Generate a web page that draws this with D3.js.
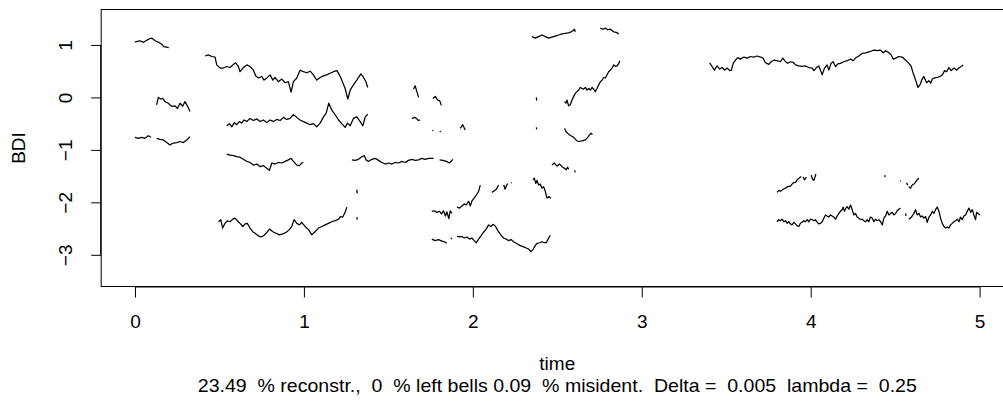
<!DOCTYPE html>
<html>
<head>
<meta charset="utf-8">
<script src="https://cdn.jsdelivr.net/npm/d3@7"></script>
<style>
  body { margin: 0; background: #fff; }
  text { font-family: "Liberation Sans", Arial, Helvetica, sans-serif; fill: #000; }
</style>
</head>
<body>
<svg id="chart" width="1003" height="408"></svg>
<script>
// Axis ticks and titles
const xTicks = [0, 1, 2, 3, 4, 5];
const yTicks = [-3, -2, -1, 0, 1];
const xTitle = "time";
const yTitle = "BDI";
const subTitle = "23.49  % reconstr.,  0  % left bells 0.09  % misident.  Delta =  0.005  lambda =  0.25";

// Reconstructed ridge pieces, each a list of [time, BDI]
const ridgeA = [[0.000,1.06],[0.030,1.08],[0.050,1.05],[0.080,1.11],[0.100,1.13],[0.120,1.08],[0.140,1.05],[0.160,1.01],[0.170,0.97],[0.200,0.95]];
const ridgeB = [[0.415,0.79],[0.434,0.81],[0.454,0.78],[0.474,0.77],[0.484,0.62],[0.504,0.56],[0.523,0.56],[0.543,0.59],[0.563,0.57],[0.583,0.63],[0.596,0.66],[0.612,0.59],[0.622,0.49],[0.642,0.57],[0.662,0.62],[0.681,0.59],[0.701,0.52],[0.715,0.41],[0.731,0.37],[0.750,0.40],[0.764,0.33],[0.780,0.37],[0.800,0.43],[0.816,0.33],[0.829,0.38],[0.849,0.30],[0.869,0.35],[0.889,0.28],[0.908,0.30],[0.924,0.10],[0.938,0.30],[0.958,0.37],[0.977,0.52],[0.997,0.49],[1.017,0.47],[1.037,0.50],[1.056,0.43],[1.076,0.33],[1.096,0.38],[1.116,0.41],[1.135,0.43],[1.155,0.46],[1.175,0.49],[1.195,0.51],[1.210,0.43],[1.224,0.33],[1.244,0.17],[1.260,-0.03],[1.274,0.14],[1.293,0.24],[1.313,0.33],[1.337,0.45],[1.353,0.38],[1.367,0.30],[1.378,0.19]];
const ridgeC = [[0.128,-0.14],[0.138,0.00],[0.152,-0.03],[0.164,-0.02],[0.178,-0.08],[0.197,-0.11],[0.217,-0.17],[0.237,-0.16],[0.251,-0.21],[0.267,-0.11],[0.282,-0.17],[0.296,-0.08],[0.310,-0.16],[0.326,-0.27]];
const ridgeD = [[0.543,-0.54],[0.559,-0.50],[0.573,-0.56],[0.588,-0.48],[0.602,-0.52],[0.618,-0.46],[0.632,-0.49],[0.646,-0.43],[0.662,-0.46],[0.681,-0.40],[0.701,-0.44],[0.721,-0.41],[0.741,-0.46],[0.760,-0.43],[0.780,-0.48],[0.800,-0.43],[0.820,-0.46],[0.839,-0.42],[0.859,-0.44],[0.879,-0.38],[0.898,-0.42],[0.918,-0.40],[0.938,-0.33],[0.958,-0.38],[0.977,-0.43],[0.997,-0.46],[1.017,-0.49],[1.037,-0.52],[1.056,-0.50],[1.076,-0.56],[1.096,-0.49],[1.116,-0.37],[1.132,-0.30],[1.147,-0.11],[1.165,-0.24],[1.185,-0.33],[1.205,-0.43],[1.224,-0.50],[1.244,-0.57],[1.258,-0.49],[1.274,-0.54],[1.293,-0.40],[1.313,-0.37],[1.333,-0.46],[1.349,-0.54],[1.363,-0.37],[1.378,-0.32]];
const ridgeE1 = [[0.000,-0.76],[0.020,-0.78],[0.039,-0.76],[0.059,-0.78],[0.079,-0.73],[0.095,-0.76]];
const ridgeE2 = [[0.128,-0.78],[0.148,-0.80],[0.168,-0.81],[0.188,-0.86],[0.207,-0.905],[0.227,-0.87],[0.247,-0.86],[0.267,-0.84],[0.286,-0.86],[0.306,-0.81],[0.326,-0.75]];
const ridgeF = [[0.543,-1.08],[0.563,-1.10],[0.583,-1.11],[0.602,-1.13],[0.622,-1.14],[0.642,-1.18],[0.662,-1.22],[0.681,-1.24],[0.701,-1.29],[0.721,-1.27],[0.741,-1.32],[0.760,-1.30],[0.780,-1.35],[0.796,-1.39],[0.810,-1.25],[0.829,-1.27],[0.849,-1.24],[0.869,-1.25],[0.889,-1.22],[0.908,-1.19],[0.924,-1.16],[0.938,-1.22],[0.958,-1.29],[0.974,-1.30],[0.987,-1.25],[0.997,-1.24]];
const ridgeG1 = [[1.284,-1.19],[1.303,-1.20],[1.323,-1.18],[1.343,-1.13],[1.357,-1.11],[1.368,-1.19],[1.382,-1.22],[1.402,-1.18],[1.422,-1.16],[1.442,-1.20],[1.461,-1.24],[1.481,-1.27],[1.501,-1.25],[1.521,-1.27],[1.540,-1.24],[1.560,-1.25],[1.580,-1.22],[1.600,-1.24],[1.619,-1.20],[1.639,-1.18],[1.659,-1.20],[1.679,-1.19],[1.698,-1.16],[1.718,-1.18],[1.738,-1.16],[1.767,-1.16]];
const ridgeG2 = [[1.803,-1.19],[1.823,-1.20],[1.843,-1.22],[1.862,-1.25],[1.882,-1.18]];
const ridgeH = [[0.494,-2.37],[0.508,-2.33],[0.519,-2.49],[0.533,-2.40],[0.547,-2.35],[0.563,-2.37],[0.579,-2.32],[0.592,-2.30],[0.606,-2.35],[0.622,-2.40],[0.638,-2.46],[0.652,-2.41],[0.665,-2.40],[0.681,-2.49],[0.697,-2.56],[0.711,-2.59],[0.731,-2.64],[0.744,-2.66],[0.760,-2.64],[0.776,-2.59],[0.796,-2.51],[0.816,-2.56],[0.835,-2.59],[0.855,-2.62],[0.875,-2.60],[0.895,-2.57],[0.914,-2.52],[0.928,-2.46],[0.942,-2.33],[0.958,-2.40],[0.974,-2.43],[0.987,-2.38],[1.007,-2.46],[1.027,-2.52],[1.047,-2.62],[1.066,-2.56],[1.086,-2.49],[1.106,-2.46],[1.126,-2.43],[1.145,-2.40],[1.165,-2.37],[1.185,-2.35],[1.205,-2.32],[1.218,-2.27],[1.230,-2.28],[1.244,-2.19],[1.254,-2.09]];
const ridgeI = [[2.350,1.16],[2.370,1.13],[2.389,1.16],[2.409,1.19],[2.429,1.16],[2.449,1.13],[2.468,1.15],[2.488,1.17],[2.508,1.19],[2.528,1.21],[2.547,1.22],[2.567,1.23],[2.581,1.25],[2.593,1.27],[2.601,1.30],[2.607,1.25]];
const ridgeJ = [[2.755,1.32],[2.771,1.30],[2.785,1.32],[2.799,1.29],[2.814,1.30],[2.834,1.25],[2.850,1.24],[2.864,1.21]];
const ridgeK = [[2.543,-0.08],[2.551,-0.11],[2.557,-0.05],[2.567,-0.16],[2.577,-0.14],[2.587,-0.05],[2.597,0.02],[2.607,0.08],[2.617,0.11],[2.626,0.14],[2.636,0.19],[2.646,0.17],[2.656,0.16],[2.666,0.19],[2.676,0.14],[2.686,0.17],[2.696,0.14],[2.706,0.19],[2.715,0.16],[2.725,0.11],[2.735,0.17],[2.745,0.24],[2.755,0.30],[2.765,0.33],[2.775,0.38],[2.785,0.37],[2.794,0.43],[2.804,0.49],[2.814,0.52],[2.824,0.56],[2.834,0.62],[2.844,0.59],[2.854,0.60],[2.864,0.65],[2.870,0.70]];
const ridgeL = [[2.543,-0.59],[2.551,-0.65],[2.567,-0.70],[2.581,-0.73],[2.597,-0.76],[2.613,-0.82],[2.626,-0.84],[2.646,-0.83],[2.666,-0.81],[2.680,-0.76],[2.692,-0.71],[2.700,-0.68],[2.708,-0.71]];
const ridgeM = [[2.468,-1.29],[2.482,-1.25],[2.498,-1.31],[2.514,-1.27],[2.528,-1.32],[2.542,-1.35],[2.553,-1.38],[2.561,-1.33],[2.567,-1.37]];
const ridgeN = [[2.356,-1.57],[2.364,-1.54],[2.372,-1.64],[2.380,-1.58],[2.389,-1.67],[2.399,-1.65],[2.409,-1.73],[2.419,-1.70],[2.429,-1.79],[2.439,-1.92],[2.449,-1.89],[2.463,-1.92]];
const ridgeO1 = [[1.757,-2.17],[1.771,-2.16],[1.786,-2.19],[1.803,-2.17],[1.815,-2.22],[1.826,-2.16],[1.838,-2.26],[1.846,-2.18],[1.858,-2.31],[1.866,-2.16],[1.876,-2.21]];
const ridgeO2 = [[1.906,-2.09],[1.922,-2.11],[1.935,-2.07],[1.949,-2.03],[1.961,-2.05],[1.975,-1.98],[1.985,-2.07],[1.995,-1.97],[2.008,-1.92],[2.020,-1.86],[2.034,-1.79],[2.044,-1.67]];
const ridgeO3 = [[2.113,-1.81],[2.127,-1.78],[2.139,-1.75],[2.147,-1.70],[2.153,-1.67]];
const ridgeO4 = [[2.183,-1.67],[2.191,-1.75],[2.198,-1.69],[2.206,-1.64]];
const ridgeP1 = [[1.757,-2.70],[1.777,-2.73],[1.797,-2.71],[1.817,-2.74],[1.831,-2.75],[1.846,-2.78]];
const ridgeP2 = [[1.906,-2.65],[1.921,-2.66],[1.935,-2.65],[1.949,-2.68],[1.965,-2.66],[1.981,-2.70],[1.994,-2.68],[2.008,-2.73],[2.020,-2.77],[2.034,-2.70],[2.048,-2.64],[2.063,-2.57],[2.079,-2.51],[2.093,-2.43],[2.107,-2.46],[2.119,-2.42],[2.133,-2.45],[2.143,-2.51],[2.152,-2.56],[2.166,-2.62],[2.182,-2.68],[2.198,-2.70],[2.212,-2.73],[2.226,-2.71],[2.241,-2.75],[2.257,-2.78],[2.271,-2.81],[2.285,-2.83],[2.301,-2.85],[2.316,-2.87],[2.330,-2.89],[2.344,-2.94],[2.356,-2.90],[2.368,-2.83],[2.380,-2.78],[2.396,-2.77],[2.409,-2.75],[2.423,-2.77],[2.435,-2.77],[2.449,-2.68],[2.458,-2.63]];
const ridgeQ = [[3.402,0.66],[3.416,0.59],[3.430,0.52],[3.446,0.60],[3.462,0.54],[3.476,0.57],[3.490,0.52],[3.505,0.56],[3.521,0.51],[3.531,0.52],[3.541,0.65],[3.555,0.71],[3.568,0.76],[3.584,0.73],[3.604,0.77],[3.624,0.75],[3.643,0.78],[3.663,0.77],[3.683,0.79],[3.703,0.77],[3.718,0.75],[3.732,0.66],[3.752,0.63],[3.766,0.68],[3.782,0.71],[3.801,0.70],[3.821,0.68],[3.835,0.75],[3.851,0.68],[3.864,0.65],[3.880,0.68],[3.896,0.67],[3.910,0.62],[3.930,0.60],[3.949,0.59],[3.969,0.60],[3.989,0.57],[4.009,0.56],[4.019,0.51],[4.034,0.57],[4.048,0.60],[4.058,0.52],[4.068,0.43],[4.082,0.56],[4.097,0.62],[4.107,0.52],[4.121,0.65],[4.133,0.68],[4.147,0.59],[4.161,0.64],[4.176,0.65],[4.196,0.68],[4.216,0.70],[4.236,0.73],[4.252,0.70],[4.265,0.75],[4.285,0.79],[4.305,0.84],[4.325,0.85],[4.345,0.87],[4.364,0.89],[4.378,0.90],[4.394,0.89],[4.414,0.90],[4.429,0.85],[4.443,0.89],[4.463,0.85],[4.477,0.81],[4.489,0.73],[4.503,0.75],[4.522,0.78],[4.542,0.77],[4.562,0.71],[4.581,0.65],[4.595,0.59],[4.607,0.46],[4.621,0.33],[4.635,0.19],[4.647,0.24],[4.660,0.35],[4.670,0.40],[4.686,0.28],[4.700,0.32],[4.710,0.27],[4.720,0.35],[4.730,0.37],[4.749,0.38],[4.765,0.40],[4.779,0.43],[4.793,0.51],[4.805,0.49],[4.818,0.57],[4.832,0.51],[4.848,0.56],[4.864,0.52],[4.877,0.56],[4.891,0.59],[4.903,0.62]];
const ridgeR1 = [[3.801,-1.81],[3.811,-1.77],[3.821,-1.79],[3.837,-1.75],[3.851,-1.73],[3.864,-1.70],[3.880,-1.69],[3.896,-1.63],[3.910,-1.62],[3.920,-1.57],[3.934,-1.53],[3.944,-1.51]];
const ridgeR2 = [[3.955,-1.51],[3.963,-1.57],[3.975,-1.52]];
const ridgeR3 = [[4.003,-1.48],[4.011,-1.56],[4.019,-1.58],[4.031,-1.46]];
const ridgeR4 = [[4.581,-1.70],[4.591,-1.73],[4.601,-1.67],[4.615,-1.64],[4.627,-1.58],[4.641,-1.54]];
const ridgeS1 = [[3.801,-2.37],[3.811,-2.33],[3.821,-2.35],[3.831,-2.32],[3.841,-2.37],[3.851,-2.35],[3.861,-2.40],[3.870,-2.37],[3.880,-2.41],[3.890,-2.43],[3.900,-2.38],[3.910,-2.41],[3.920,-2.45],[3.930,-2.46],[3.939,-2.40],[3.949,-2.38],[3.959,-2.35],[3.969,-2.37],[3.979,-2.33],[3.989,-2.37],[3.999,-2.32],[4.009,-2.33],[4.019,-2.35],[4.028,-2.33],[4.038,-2.38],[4.048,-2.41],[4.058,-2.40],[4.068,-2.37],[4.078,-2.30],[4.088,-2.24],[4.097,-2.26],[4.107,-2.28],[4.117,-2.24],[4.127,-2.26],[4.137,-2.28],[4.147,-2.32],[4.157,-2.26],[4.167,-2.21],[4.176,-2.17],[4.186,-2.14],[4.192,-2.09],[4.200,-2.17],[4.208,-2.11],[4.216,-2.08],[4.226,-2.13],[4.236,-2.05],[4.246,-2.14],[4.255,-2.24],[4.265,-2.21],[4.275,-2.28],[4.285,-2.30],[4.295,-2.33],[4.305,-2.32],[4.315,-2.35],[4.325,-2.37],[4.335,-2.33],[4.344,-2.37],[4.354,-2.28],[4.364,-2.30],[4.374,-2.37],[4.384,-2.32],[4.394,-2.35],[4.404,-2.33],[4.414,-2.37],[4.424,-2.43],[4.433,-2.30],[4.443,-2.26],[4.453,-2.17],[4.463,-2.24],[4.473,-2.21],[4.483,-2.19],[4.493,-2.24],[4.503,-2.21],[4.512,-2.16],[4.522,-2.13],[4.532,-2.11]];
const ridgeS2 = [[4.581,-2.32],[4.591,-2.30],[4.601,-2.26],[4.611,-2.21],[4.621,-2.14],[4.631,-2.24],[4.641,-2.21],[4.651,-2.28],[4.660,-2.26],[4.670,-2.30],[4.680,-2.27],[4.690,-2.38],[4.700,-2.28],[4.710,-2.24],[4.720,-2.17],[4.730,-2.21],[4.739,-2.14],[4.749,-2.09],[4.759,-2.17],[4.769,-2.30],[4.779,-2.40],[4.789,-2.46],[4.799,-2.49],[4.809,-2.47],[4.818,-2.49],[4.828,-2.43],[4.838,-2.40],[4.848,-2.37],[4.858,-2.35],[4.868,-2.32],[4.878,-2.37],[4.887,-2.28],[4.897,-2.33],[4.907,-2.26],[4.917,-2.24],[4.927,-2.17],[4.937,-2.11],[4.947,-2.19],[4.957,-2.14],[4.966,-2.24],[4.976,-2.33],[4.982,-2.19],[4.990,-2.21],[5.002,-2.24]];
// short fragments
const fragT1 = [[1.649,0.16],[1.659,0.22],[1.666,0.14],[1.679,0.00]];
const fragT2 = [[1.763,-0.02],[1.778,0.02],[1.792,-0.05],[1.804,-0.06],[1.813,-0.15]];
const fragT3 = [[1.639,-0.40],[1.659,-0.38],[1.678,-0.44],[1.688,-0.43]];
const fragT4 = [[1.762,-0.62],[1.765,-0.64]];
const fragT5 = [[1.805,-0.64],[1.809,-0.66]];
const fragT6 = [[1.926,-0.59],[1.940,-0.52],[1.955,-0.62]];
const fragT7 = [[2.376,0.00],[2.378,-0.06]];
const fragT8 = [[2.376,-0.57],[2.378,-0.61]];
const fragT9 = [[1.313,-1.76],[1.316,-1.83]];
const fragT10 = [[1.313,-2.28],[1.316,-2.33]];
const fragT11 = [[1.870,-2.68],[1.876,-2.70]];
const fragT12 = [[2.226,-1.62],[2.230,-1.63]];
const fragT13 = [[2.603,-1.39],[2.606,-1.43]];
const fragT14 = [[4.439,-1.48],[4.441,-1.52]];
const fragT15 = [[4.530,-1.585],[4.534,-1.60]];
const fragT16 = [[4.567,-1.63],[4.575,-1.67]];
const fragT17 = [[4.562,-2.21],[4.565,-2.26]];

const ridges = [ridgeA, ridgeB, ridgeC, ridgeD, ridgeE1, ridgeE2, ridgeF, ridgeG1, ridgeG2, ridgeH,
  ridgeI, ridgeJ, ridgeK, ridgeL, ridgeM, ridgeN, ridgeO1, ridgeO2, ridgeO3, ridgeO4, ridgeP1, ridgeP2,
  ridgeQ, ridgeR1, ridgeR2, ridgeR3, ridgeR4, ridgeS1, ridgeS2,
  fragT1, fragT2, fragT3, fragT4, fragT5, fragT6, fragT7, fragT8, fragT9, fragT10, fragT11,
  fragT12, fragT13, fragT14, fragT15, fragT16, fragT17];

// Plot region (base-graphics style, 4% padding around the data range)
const plot = { left: 101.2, right: 1013.4, top: 9.5, bottom: 286.5 };
const fontSize = "19px";
const svg = d3.select("#chart");

const x = d3.scaleLinear().domain([-0.2, 5.2]).range([plot.left, plot.right]);
const y = d3.scaleLinear().domain([-3.604, 1.676]).range([plot.bottom, plot.top]);

svg.append("defs").append("clipPath").attr("id", "plotClip")
  .append("rect")
  .attr("x", plot.left).attr("y", plot.top)
  .attr("width", plot.right - plot.left).attr("height", plot.bottom - plot.top);

// Ridge lines
const line = d3.line().x(d => x(d[0])).y(d => y(d[1]));
svg.append("g").attr("clip-path", "url(#plotClip)")
  .selectAll("path").data(ridges).join("path")
  .attr("d", line)
  .attr("fill", "none")
  .attr("stroke", "#000")
  .attr("stroke-width", 1.25)
  .attr("stroke-linejoin", "round");

// Box
svg.append("rect")
  .attr("x", plot.left).attr("y", plot.top)
  .attr("width", plot.right - plot.left).attr("height", plot.bottom - plot.top)
  .attr("fill", "none").attr("stroke", "#000").attr("stroke-width", 1);

const fmt = d => (d < 0 ? "\u2212" + Math.abs(d) : String(d));

// Bottom axis
const xAxis = d3.axisBottom(x).tickValues(xTicks).tickSize(11).tickFormat(fmt);
const gx = svg.append("g").attr("transform", `translate(0,${plot.bottom})`).call(xAxis);
gx.select(".domain").attr("d", `M${x(xTicks[0])},0.5H${x(xTicks[xTicks.length - 1])}`).attr("stroke", "#000");
gx.selectAll(".tick line").attr("stroke", "#000");
gx.selectAll(".tick text").attr("font-size", fontSize).attr("font-family", null).attr("fill", "#000")
  .attr("dy", null).attr("y", 41.8);

// Left axis with rotated labels
const yAxis = d3.axisLeft(y).tickValues(yTicks).tickSize(10).tickFormat(fmt);
const gy = svg.append("g").attr("transform", `translate(${plot.left},0)`).call(yAxis);
gy.select(".domain").attr("d", `M-0.5,${y(yTicks[0])}V${y(yTicks[yTicks.length - 1])}`).attr("stroke", "#000");
gy.selectAll(".tick line").attr("stroke", "#000");
gy.selectAll(".tick text")
  .attr("font-size", fontSize).attr("font-family", null).attr("fill", "#000")
  .attr("x", null).attr("dy", null)
  .attr("text-anchor", "middle")
  .attr("transform", "translate(-29,0) rotate(-90)");

// Titles
const cx = (plot.left + plot.right) / 2;
svg.append("text").attr("x", cx).attr("y", 370)
  .attr("text-anchor", "middle").attr("font-size", fontSize).text(xTitle);
svg.append("text")
  .attr("transform", `translate(25,${(plot.top + plot.bottom) / 2}) rotate(-90)`)
  .attr("text-anchor", "middle").attr("font-size", fontSize).text(yTitle);
svg.append("text").attr("x", cx).attr("y", 392)
  .attr("text-anchor", "middle").attr("font-size", fontSize)
  .attr("textLength", 719).attr("lengthAdjust", "spacingAndGlyphs")
  .style("white-space", "pre")
  .text(subTitle);
</script>
</body>
</html>
